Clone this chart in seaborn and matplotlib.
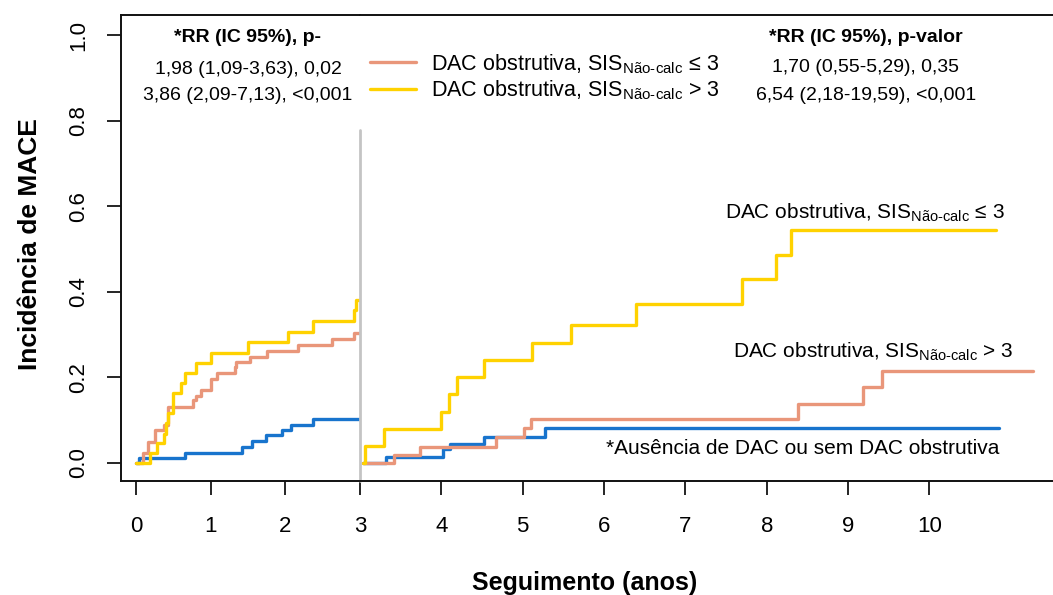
import seaborn as sns
import matplotlib.pyplot as plt
import pandas as pd
from matplotlib.lines import Line2D

# landmark 0-3 years
yellow_l_t = [0, 0.19, 0.28, 0.37, 0.40, 0.43, 0.50, 0.60, 0.66, 0.81, 1.00, 1.50, 2.03, 2.37, 2.92, 2.94, 2.99]
yellow_l_y = [0, 0.023, 0.046, 0.069, 0.093, 0.116, 0.163, 0.186, 0.210, 0.233, 0.258, 0.282, 0.306, 0.331, 0.357, 0.381, 0.381]
salmon_l_t = [0, 0.10, 0.165, 0.25, 0.38, 0.43, 0.77, 0.80, 0.87, 1.00, 1.08, 1.32, 1.34, 1.53, 1.76, 2.17, 2.63, 2.92, 2.99]
salmon_l_y = [0, 0.023, 0.050, 0.077, 0.089, 0.130, 0.147, 0.157, 0.170, 0.196, 0.210, 0.224, 0.237, 0.248, 0.262, 0.275, 0.290, 0.303, 0.303]
blue_l_t = [0, 0.04, 0.66, 1.42, 1.55, 1.74, 1.96, 2.08, 2.37, 2.99]
blue_l_y = [0, 0.012, 0.024, 0.038, 0.051, 0.065, 0.077, 0.090, 0.104, 0.104]

# landmark after 3 years
yellow_r_t = [3.04, 3.06, 3.29, 4.00, 4.09, 4.19, 4.52, 5.12, 5.59, 6.39, 7.70, 8.11, 8.30, 10.82]
yellow_r_y = [0, 0.040, 0.079, 0.120, 0.161, 0.202, 0.241, 0.281, 0.322, 0.371, 0.429, 0.487, 0.544, 0.544]
salmon_r_t = [3.04, 3.42, 3.74, 4.67, 5.02, 5.10, 8.39, 9.18, 9.42, 11.27]
salmon_r_y = [0, 0.019, 0.038, 0.060, 0.081, 0.104, 0.139, 0.177, 0.215, 0.215]
blue_r_t = [3.04, 3.32, 4.02, 4.11, 4.52, 5.28, 10.86]
blue_r_y = [0, 0.015, 0.032, 0.044, 0.061, 0.081, 0.081]

yticks = [0.0, 0.2, 0.4, 0.6, 0.8, 1.0]
xticks_l = [0, 1, 2]
xticks_r = [3, 4, 5, 6, 7, 8, 9, 10]

lab_le3 = "DAC obstrutiva, SIS$_{\\mathrm{Não‐calc}}$ ≤ 3"
lab_gt3 = "DAC obstrutiva, SIS$_{\\mathrm{Não‐calc}}$ > 3"
lab_none = "*Ausência de DAC ou sem DAC obstrutiva"
rr_left = ["1,98 (1,09-3,63), 0,02", "3,86 (2,09-7,13), <0,001"]
rr_right = ["1,70 (0,55-5,29), 0,35", "6,54 (2,18-19,59), <0,001"]

YELLOW = "#FFD200"
SALMON = "#E9967A"
BLUE = "#1874CD"

sns.set_style("white")
plt.rcParams['font.family'] = ['Liberation Sans', 'DejaVu Sans']
plt.rcParams['mathtext.fontset'] = 'custom'
plt.rcParams['mathtext.rm'] = 'Liberation Sans'
for k in ("text.color", "axes.labelcolor", "xtick.color", "ytick.color", "axes.edgecolor"):
    plt.rcParams[k] = "black"

W, H = 1053, 595
fig = plt.figure(figsize=(W / 100, H / 100), dpi=100)
ax_l = fig.add_axes([121 / W, 1 - 481 / H, (360 - 121) / W, (481 - 15) / H])
ax_r = fig.add_axes([360 / W, 1 - 481 / H, (W - 360) / W, (481 - 15) / H])


def draw(ax, t, y, color):
    df = pd.DataFrame({"t": t, "y": y})
    sns.lineplot(data=df, x="t", y="y", ax=ax, color=color, lw=2.4,
                 drawstyle="steps-post", estimator=None, legend=False)


draw(ax_l, blue_l_t, blue_l_y, BLUE)
draw(ax_l, salmon_l_t, salmon_l_y, SALMON)
draw(ax_l, yellow_l_t, yellow_l_y, YELLOW)
draw(ax_r, blue_r_t, blue_r_y, BLUE)
draw(ax_r, salmon_r_t, salmon_r_y, SALMON)
draw(ax_r, yellow_r_t, yellow_r_y, YELLOW)

ylo, yhi = -0.042, 1.047
for ax in (ax_l, ax_r):
    ax.set_ylim(ylo, yhi)
    ax.set_xlabel("")
    ax.set_ylabel("")
    for s in ax.spines.values():
        s.set_color("#111111")
        s.set_linewidth(1.4)
    ax.spines["right"].set_visible(False)
    ax.tick_params(axis="x", direction="out", length=10, width=1.2, pad=15,
                   labelsize=16, bottom=True)

ax_l.set_xlim(-0.2, 3.0)
ax_l.set_xticks(xticks_l)
ax_l.set_yticks(yticks)
ax_l.set_yticklabels([f"{v:.1f}" for v in yticks], rotation=90, va="center")
ax_l.tick_params(axis="y", direction="out", length=10, width=1.2, pad=13,
                 labelsize=16, left=True)

ax_r.set_xlim(3.0, 11.52)
ax_r.set_xticks(xticks_r)
ax_r.set_yticks([])
ax_r.spines["left"].set_visible(False)
ax_r.axvline(3, ymin=0, ymax=(0.778 - ylo) / (yhi - ylo), color="#c4c4c4",
             lw=2, clip_on=False)

ax_r.text(7.49, 0.584, lab_le3, fontsize=15, va="center")
ax_r.text(7.59, 0.259, lab_gt3, fontsize=15, va="center")
ax_r.text(6.03, 0.033, lab_none, fontsize=15, va="center")


def px(x, y):
    return x / W, 1 - y / H


fig.text(*px(248, 38), "*RR (IC 95%), p-", fontsize=14, fontweight="bold",
         ha="center", va="center")
fig.text(*px(248, 69), rr_left[0], fontsize=14, ha="center", va="center")
fig.text(*px(248, 96), rr_left[1], fontsize=14, ha="center", va="center")
fig.text(*px(866, 38), "*RR (IC 95%), p-valor", fontsize=14,
         fontweight="bold", ha="center", va="center")
fig.text(*px(866, 68), rr_right[0], fontsize=14, ha="center", va="center")
fig.text(*px(866, 96), rr_right[1], fontsize=14, ha="center", va="center")

handles = [Line2D([], [], color=SALMON, lw=2.4), Line2D([], [], color=YELLOW, lw=2.4)]
fig.legend(handles, [lab_le3, lab_gt3], loc="upper left",
           bbox_to_anchor=px(370, 52), frameon=False, fontsize=15.5,
           handlelength=2.15, handletextpad=0.7, labelspacing=0.15,
           borderpad=0, borderaxespad=0)

fig.text(*px(30, 244), "Incidência de MACE", fontsize=19, fontweight="bold",
         rotation=90, ha="center", va="center")
fig.text(*px(585, 583), "Seguimento (anos)", fontsize=18, fontweight="bold",
         ha="center", va="center")

fig.savefig("out.png", dpi=100)
plt.close(fig)
